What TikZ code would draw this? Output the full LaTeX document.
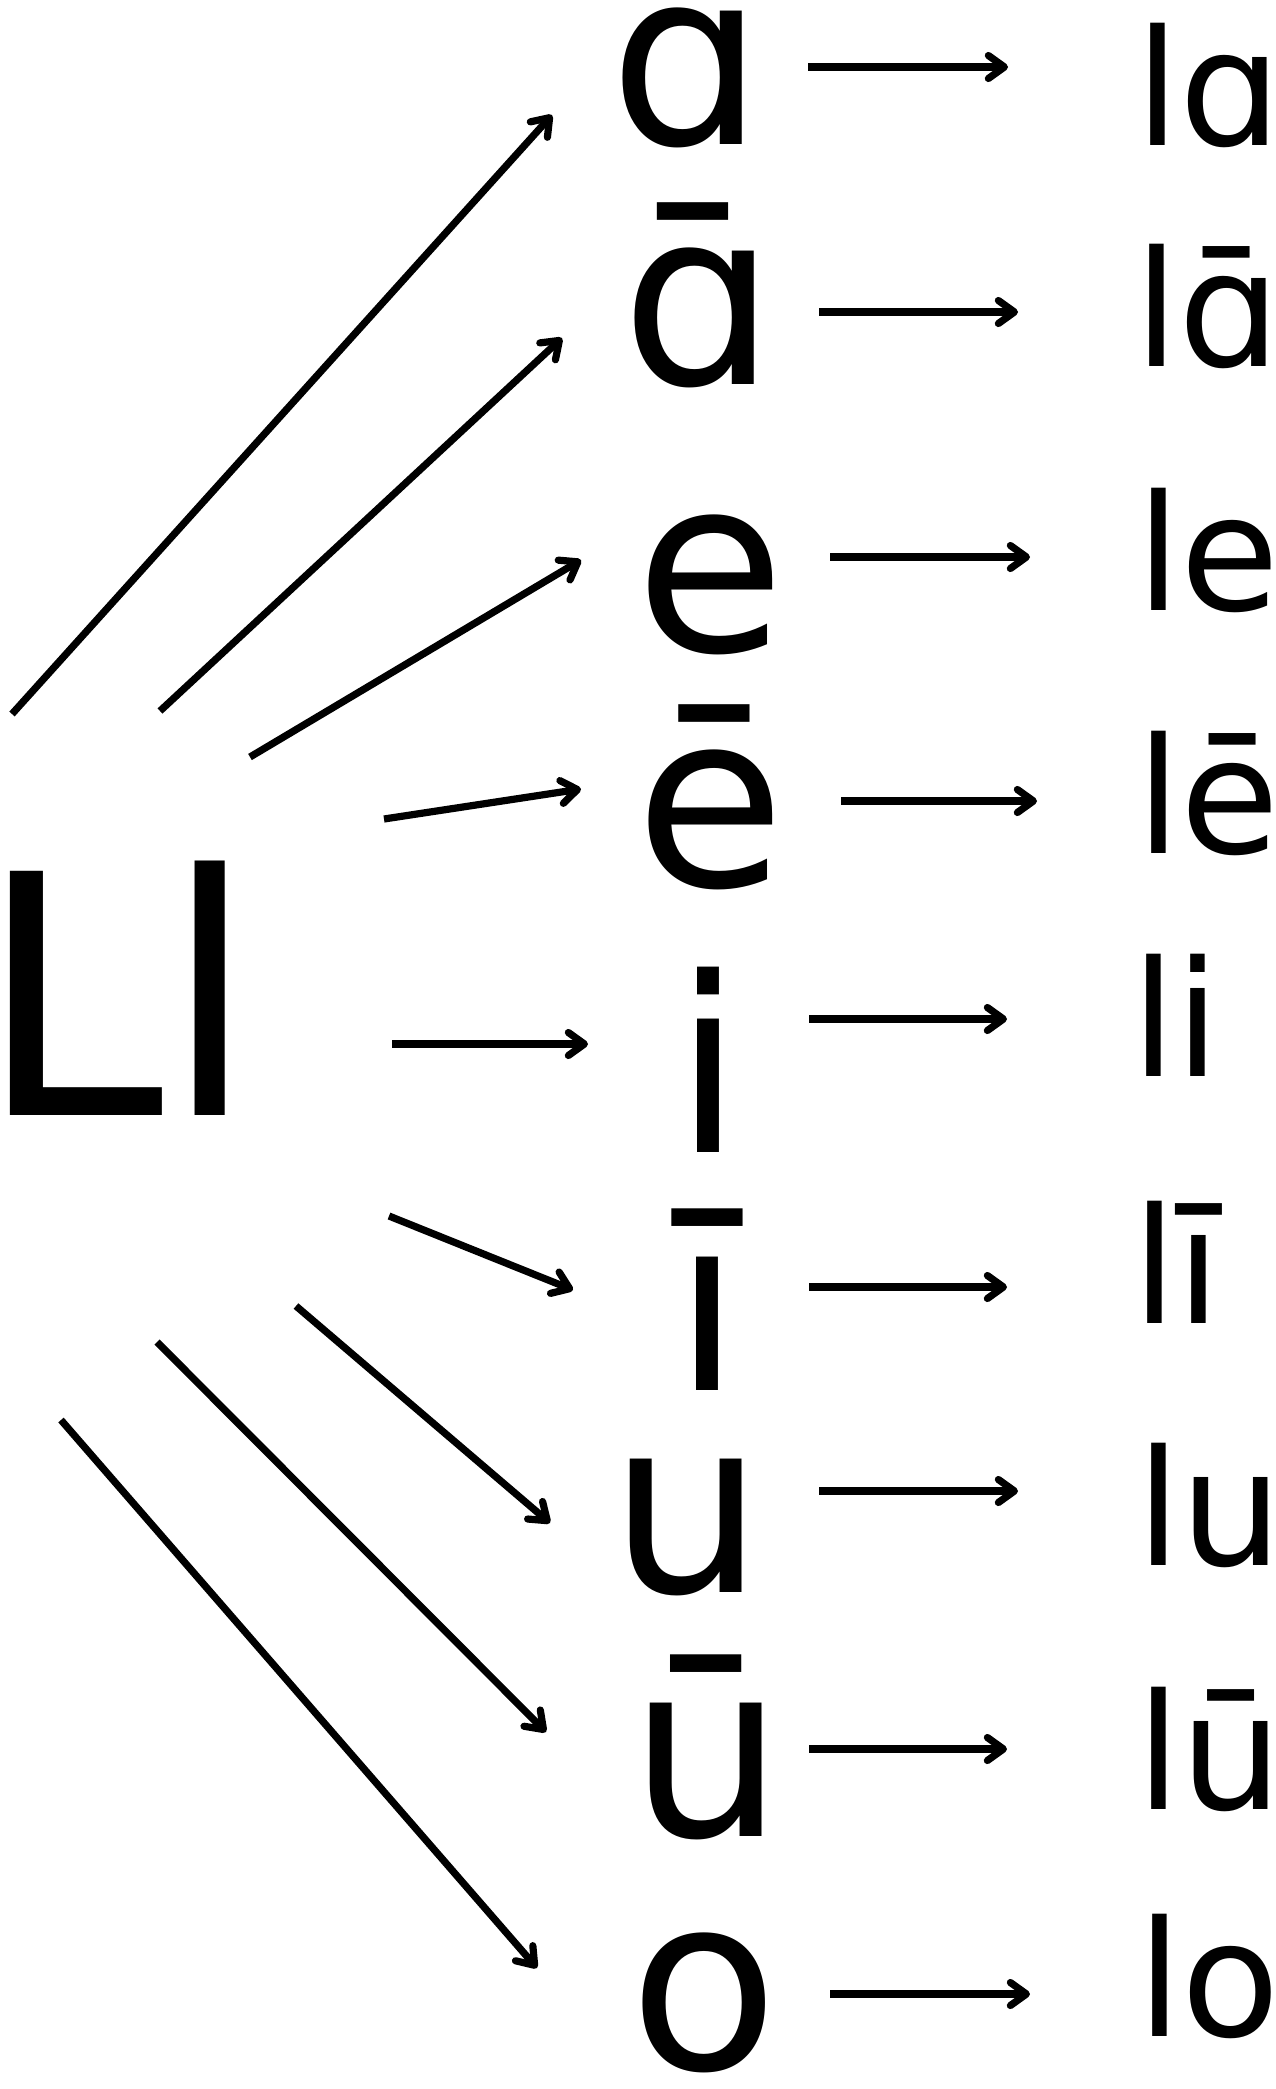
\documentclass[tikz,border=0pt]{standalone}
\usepackage{fontspec}
\setmainfont{DejaVu Sans}
\usetikzlibrary{arrows.meta}
\begin{document}
\begin{tikzpicture}[x=1pt,y=-1pt,
  arr/.style={line width=7.2pt,-{Straight Barb[length=16pt,width=23pt,round]}},
  big/.style={inner sep=0pt,anchor=base,font=\fontsize{335}{335}\selectfont},
  mid/.style={inner sep=0pt,anchor=base,font=\fontsize{244}{244}\selectfont},
  syl/.style={inner sep=0pt,anchor=base west,font=\fontsize{161}{161}\selectfont}]
\useasboundingbox (0,0) rectangle (1275,2089);
% left
\node[big] (Ll) at (117,1115.5) {Ll};
% vowels
\node[mid] (va)  at (687,144)   {ɑ};
\node[mid] (vaa) at (699,384)   {ɑ̄};
\node[mid] (ve)  at (711,651)   {e};
\node[mid] (vee) at (711,886)   {ē};
\node[mid] (vi)  at (708,1152)  {i};
\node[mid] (vii) at (707,1390)  {ī};
\node[mid] (vu)  at (686.5,1592) {u};
\node[mid] (vuu) at (707,1836)  {ū};
\node[mid] (vo)  at (704.5,2069) {o};
% syllables
\node[syl] (ra)  at (1135,145.7) {lɑ};
\node[syl] (raa) at (1134,366)  {lɑ̄};
\node[syl] (re)  at (1136,610)  {le};
\node[syl] (ree) at (1136,853)  {lē};
\node[syl] (ri)  at (1131,1076) {li};
\node[syl] (rii) at (1132,1323) {lī};
\node[syl] (ru)  at (1136,1565) {lu};
\node[syl] (ruu) at (1136,1809) {lū};
\node[syl] (ro)  at (1137,2036) {lo};
% Ll -> vowels
\draw[arr] ([shift={(-105,-401.5)}]Ll.base) -- ([shift={(-135,-29)}]va.base);
\draw[arr] ([shift={(43,-404.5)}]Ll.base) -- ([shift={(-137,-46)}]vaa.base);
\draw[arr] ([shift={(133,-358.5)}]Ll.base) -- ([shift={(-130,-91)}]ve.base);
\draw[arr] ([shift={(267,-296.5)}]Ll.base) -- ([shift={(-130,-97)}]vee.base);
\draw[arr] ([shift={(275,-71.5)}]Ll.base) -- ([shift={(-120,-108)}]vi.base);
\draw[arr] ([shift={(272,100.5)}]Ll.base) -- ([shift={(-134,-100)}]vii.base);
\draw[arr] ([shift={(179,190.5)}]Ll.base) -- ([shift={(-136.5,-69)}]vu.base);
\draw[arr] ([shift={(40,226.5)}]Ll.base) -- ([shift={(-161,-104)}]vuu.base);
\draw[arr] ([shift={(-56,304.5)}]Ll.base) -- ([shift={(-167.5,-101)}]vo.base);
% vowels -> syllables
\draw[arr] ([shift={(121,-77)}]va.base)    -- ([shift={(-127,-78.7)}]ra.base west);
\draw[arr] ([shift={(120,-72)}]vaa.base)   -- ([shift={(-116,-54)}]raa.base west);
\draw[arr] ([shift={(119,-94)}]ve.base)    -- ([shift={(-106,-53)}]re.base west);
\draw[arr] ([shift={(130,-85)}]vee.base)   -- ([shift={(-99,-52)}]ree.base west);
\draw[arr] ([shift={(101,-133)}]vi.base)   -- ([shift={(-124,-57)}]ri.base west);
\draw[arr] ([shift={(102,-103)}]vii.base)  -- ([shift={(-125,-36)}]rii.base west);
\draw[arr] ([shift={(132.5,-101)}]vu.base) -- ([shift={(-118,-74)}]ru.base west);
\draw[arr] ([shift={(102,-87)}]vuu.base)   -- ([shift={(-129,-60)}]ruu.base west);
\draw[arr] ([shift={(125.5,-75)}]vo.base)  -- ([shift={(-107,-42)}]ro.base west);
\end{tikzpicture}
\end{document}
